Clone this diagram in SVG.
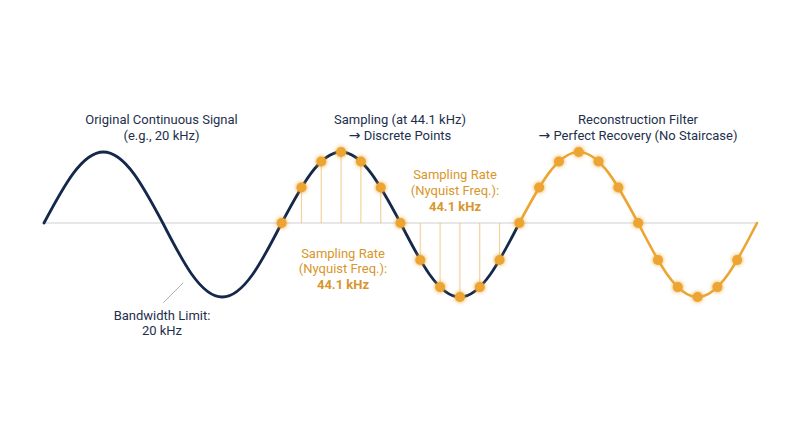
<svg xmlns="http://www.w3.org/2000/svg" width="800" height="447" viewBox="0 0 800 447">
  <defs>
    <style>
      .lbl { font-family: Roboto, "Liberation Sans", sans-serif; font-size: 13px; fill: #1e2f4d; text-anchor: middle; }
      .olbl { font-family: Roboto, "Liberation Sans", sans-serif; font-size: 13px; fill: #d8962c; text-anchor: middle; }
      .arr { font-family: "DejaVu Sans", sans-serif; font-size: 14px; }
      .bold { font-weight: bold; }
      .axis { stroke: #cfcfcf; stroke-width: 1; fill: none; }
      .stem { stroke: #e9ad52; stroke-opacity: 0.55; stroke-width: 1.2; }
      .dot { fill: #eca532; filter: url(#glow); }
      .navy { stroke: #13284a; stroke-width: 2.8; fill: none; stroke-linecap: round; }
      .orange { stroke: #eca532; stroke-width: 2.6; fill: none; stroke-linecap: round; }
      .leader { stroke: #b0b0b0; stroke-width: 1; }
    </style>
    <filter id="glow" x="-100%" y="-100%" width="300%" height="300%">
      <feGaussianBlur in="SourceGraphic" stdDeviation="2.2" result="b"/>
      <feMerge>
        <feMergeNode in="b"/>
        <feMergeNode in="SourceGraphic"/>
      </feMerge>
    </filter>
  </defs>
  <rect width="800" height="447" fill="#ffffff"/>

  <g id="connectors">
    <line class="axis" x1="44" y1="223" x2="757" y2="223"/>
    <line class="leader" x1="183.3" y1="282.7" x2="163.3" y2="302.7"/>
    <g id="stems">
      <line class="stem" x1="301.47" y1="187.5" x2="301.47" y2="223"/>
      <line class="stem" x1="321.28" y1="161.51" x2="321.28" y2="223"/>
      <line class="stem" x1="341.08" y1="152" x2="341.08" y2="223"/>
      <line class="stem" x1="360.89" y1="161.51" x2="360.89" y2="223"/>
      <line class="stem" x1="380.70" y1="187.5" x2="380.70" y2="223"/>
      <line class="stem" x1="420.31" y1="260" x2="420.31" y2="223"/>
      <line class="stem" x1="440.11" y1="287.09" x2="440.11" y2="223"/>
      <line class="stem" x1="459.92" y1="297" x2="459.92" y2="223"/>
      <line class="stem" x1="479.72" y1="287.09" x2="479.72" y2="223"/>
      <line class="stem" x1="499.53" y1="260" x2="499.53" y2="223"/>
    </g>
  </g>

  <g id="original-signal">
    <path class="navy" d="M44,223 C63.38,186.63 81.91,152 103.42,152 C124.93,152 143.46,186.63 162.83,223 C182.21,260.91 200.74,297 222.25,297 C243.76,297 262.29,260.91 281.67,223 C301.05,186.63 319.58,152 341.08,152 C362.59,152 381.12,186.63 400.5,223 C419.88,260.91 438.41,297 459.92,297 C481.43,297 499.96,260.91 519.33,223"/>
  </g>

  <g id="reconstructed-signal">
    <path class="orange" d="M519.33,223 C538.71,186.63 557.24,152 578.75,152 C600.26,152 618.79,186.63 638.17,223 C657.55,260.91 676.08,297 697.58,297 C719.09,297 737.62,260.91 757,223"/>
  </g>

  <g id="samples">
    <circle class="dot" cx="281.67" cy="223" r="5"/>
    <circle class="dot" cx="301.47" cy="187.5" r="5"/>
    <circle class="dot" cx="321.28" cy="161.51" r="5"/>
    <circle class="dot" cx="341.08" cy="152" r="5"/>
    <circle class="dot" cx="360.89" cy="161.51" r="5"/>
    <circle class="dot" cx="380.70" cy="187.5" r="5"/>
    <circle class="dot" cx="400.50" cy="223" r="5"/>
    <circle class="dot" cx="420.31" cy="260" r="5"/>
    <circle class="dot" cx="440.11" cy="287.09" r="5"/>
    <circle class="dot" cx="459.92" cy="297" r="5"/>
    <circle class="dot" cx="479.72" cy="287.09" r="5"/>
    <circle class="dot" cx="499.53" cy="260" r="5"/>
    <circle class="dot" cx="519.33" cy="223" r="5"/>
    <circle class="dot" cx="539.14" cy="187.5" r="5"/>
    <circle class="dot" cx="558.94" cy="161.51" r="5"/>
    <circle class="dot" cx="578.75" cy="152" r="5"/>
    <circle class="dot" cx="598.56" cy="161.51" r="5"/>
    <circle class="dot" cx="618.36" cy="187.5" r="5"/>
    <circle class="dot" cx="638.17" cy="223" r="5"/>
    <circle class="dot" cx="657.97" cy="260" r="5"/>
    <circle class="dot" cx="677.78" cy="287.09" r="5"/>
    <circle class="dot" cx="697.58" cy="297" r="5"/>
    <circle class="dot" cx="717.39" cy="287.09" r="5"/>
    <circle class="dot" cx="737.19" cy="260" r="5"/>
  </g>

  <g id="label-original">
    <text class="lbl" x="161.5" y="124">Original Continuous Signal</text>
    <text class="lbl" x="161.5" y="140">(e.g., 20 kHz)</text>
  </g>
  <g id="label-sampling">
    <text class="lbl" x="400" y="124">Sampling (at 44.1 kHz)</text>
    <text class="lbl" x="400" y="140"><tspan class="arr">→</tspan> Discrete Points</text>
  </g>
  <g id="label-reconstruction">
    <text class="lbl" x="638" y="124">Reconstruction Filter</text>
    <text class="lbl" x="638" y="140"><tspan class="arr">→</tspan> Perfect Recovery (No Staircase)</text>
  </g>
  <g id="label-bandwidth">
    <text class="lbl" x="162" y="319.5">Bandwidth Limit:</text>
    <text class="lbl" x="162" y="335">20 kHz</text>
  </g>
  <g id="label-rate-upper">
    <text class="olbl" x="455" y="178.5">Sampling Rate</text>
    <text class="olbl" x="455" y="194.5">(Nyquist Freq.):</text>
    <text class="olbl bold" x="455" y="210.5">44.1 kHz</text>
  </g>
  <g id="label-rate-lower">
    <text class="olbl" x="343" y="257.5">Sampling Rate</text>
    <text class="olbl" x="343" y="273">(Nyquist Freq.):</text>
    <text class="olbl bold" x="343" y="288.5">44.1 kHz</text>
  </g>
</svg>
